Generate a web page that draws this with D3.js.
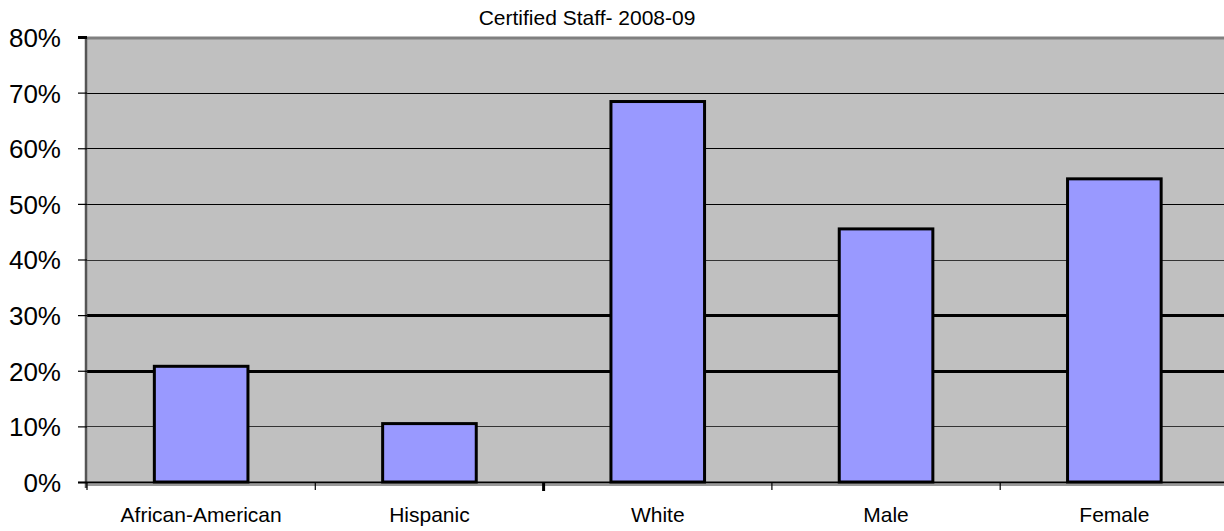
<!DOCTYPE html>
<html>
<head>
<meta charset="utf-8">
<script src="https://cdn.jsdelivr.net/npm/d3@7/dist/d3.min.js"></script>
<style>
  html, body { margin: 0; padding: 0; background: #fff; }
  svg { display: block; }
  text { font-family: Arial, "Liberation Sans", sans-serif; fill: #000; }
</style>
</head>
<body>
<svg id="chart" width="1224" height="531"></svg>
<script>
// Certified staff composition, 2008-09 (share of all certified staff)
const categories = ["African-American", "Hispanic", "White", "Male", "Female"];
const values = [0.208, 0.105, 0.684, 0.455, 0.545];
const yTicks = [0, 0.1, 0.2, 0.3, 0.4, 0.5, 0.6, 0.7, 0.8];
const yTickLabels = ["0%", "10%", "20%", "30%", "40%", "50%", "60%", "70%", "80%"];
const heavyGrid = [0.2, 0.3];
const title = "Certified Staff- 2008-09";

const svg = d3.select("#chart");
const margin = { left: 87, top: 37, bottom: 49 };
const plotW = 1141.5;
const plotH = 531 - margin.top - margin.bottom;

const x = d3.scaleBand().domain(categories).range([0, plotW]).paddingInner(0.59).paddingOuter(0.295);
const y = d3.scaleLinear().domain([0, 0.8]).range([plotH, 0]);

const g = svg.append("g").attr("transform", `translate(${margin.left},${margin.top})`);

// plot background
g.append("rect").attr("x", 0).attr("y", 0).attr("width", plotW).attr("height", plotH).attr("fill", "#c0c0c0");

// horizontal gridlines
g.selectAll("line.grid").data(yTicks.filter(t => t > 0 && t < 0.8)).join("line")
  .attr("class", "grid")
  .attr("x1", 0).attr("x2", plotW)
  .attr("y1", d => Math.round(y(d)) + 0.5).attr("y2", d => Math.round(y(d)) + 0.5)
  .attr("stroke", d => (d === 0.1 || d === 0.4) ? "#333" : "#000")
  .attr("stroke-width", d => heavyGrid.includes(d) ? 3 : 1.2);

// top border of plot area
g.append("line").attr("x1", 0).attr("x2", plotW).attr("y1", y(0.8) + 1).attr("y2", y(0.8) + 1)
  .attr("stroke", "#808080").attr("stroke-width", 3);

// bars
g.selectAll("rect.bar").data(values).join("rect")
  .attr("class", "bar")
  .attr("x", (d, i) => x(categories[i]))
  .attr("y", d => y(d))
  .attr("width", x.bandwidth())
  .attr("height", d => y(0) - y(d))
  .attr("fill", "#9999ff")
  .attr("stroke", "#000")
  .attr("stroke-width", 3);

// y axis
const yAxis = d3.axisLeft(y).tickValues(yTicks).tickFormat((d, i) => yTickLabels[i]).tickSize(9).tickPadding(17);
const ya = g.append("g").call(yAxis);
ya.select(".domain").attr("stroke", "#555").attr("stroke-width", 2.5).attr("d", `M-1,${y(0.8)}V${y(0) + 6}`);
ya.selectAll(".tick line").attr("stroke", "#000").attr("stroke-width", 1.2);
ya.selectAll(".tick").filter(d => d === 0.8).select("line").attr("stroke-width", 3);
ya.selectAll(".tick text").style("font-size", "26px").attr("fill", "#000").attr("dy", "0.36em");

// x axis: ticks at band boundaries
const xa = g.append("g").attr("transform", `translate(0,${plotH})`);
xa.append("line").attr("x1", 0).attr("x2", plotW).attr("y1", 3).attr("y2", 3)
  .attr("stroke", "#999").attr("stroke-width", 2);
xa.append("line").attr("x1", -9).attr("x2", plotW).attr("y1", 0.5).attr("y2", 0.5)
  .attr("stroke", "#000").attr("stroke-width", 2);
const step = x.step();
const bounds = d3.range(categories.length + 1).map(i => i * step);
xa.selectAll("line.xt").data(bounds).join("line")
  .attr("class", "xt")
  .attr("x1", d => d).attr("x2", d => d)
  .attr("y1", 0).attr("y2", (d, i) => i === 2 ? 9 : 8)
  .attr("stroke", "#000")
  .attr("stroke-width", (d, i) => i === 2 ? 3 : 1.2);
xa.selectAll("text").data(categories).join("text")
  .attr("x", d => x(d) + x.bandwidth() / 2)
  .attr("y", 40)
  .attr("text-anchor", "middle")
  .style("font-size", "21px")
  .text(d => d);

// title
svg.append("text").attr("x", 587).attr("y", 25).attr("text-anchor", "middle")
  .style("font-size", "21px").text(title);
</script>
</body>
</html>
